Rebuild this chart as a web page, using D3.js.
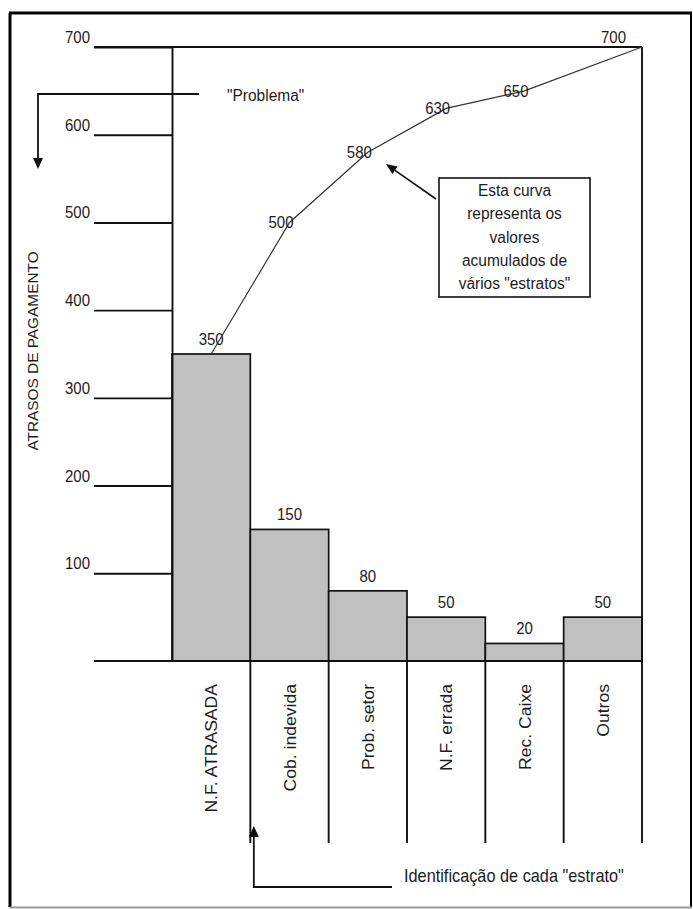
<!DOCTYPE html>
<html>
<head>
<meta charset="utf-8">
<script src="https://cdn.jsdelivr.net/npm/d3@7"></script>
<style>
  html, body { margin: 0; padding: 0; background: #fff; }
  svg { display: block; }
  text { font-family: "Liberation Sans", Arial, sans-serif; fill: #1c1c1c; }
</style>
</head>
<body>
<script>
// Pareto de atrasos de pagamento por "estrato"
const categories = ["N.F. ATRASADA", "Cob. indevida", "Prob. setor", "N.F. errada", "Rec. Caixe", "Outros"];
const values = [350, 150, 80, 50, 20, 50];
const cumulative = [350, 500, 580, 630, 650, 700];
const yTicks = [100, 200, 300, 400, 500, 600, 700];
const yTitle = "ATRASOS DE PAGAMENTO";
const calloutLines = ["Esta curva", "representa os", "valores", "acumulados de", "vários \"estratos\""];
const problemLabel = "\"Problema\"";
const strataLabel = "Identificação de cada \"estrato\"";

const W = 693, H = 909;
const STRETCH = 1.1;          // glyphs are drawn slightly taller than wide
const plotLeft = 172, plotRight = 642, plotTop = 47, plotBase = 661, tickStart = 94, stubBottom = 843;

const svg = d3.select("body").append("svg").attr("width", W).attr("height", H);
svg.append("rect").attr("width", W).attr("height", H).attr("fill", "#fff");

// outer frame
svg.append("line").attr("x1", 10).attr("y1", 13).attr("x2", 10).attr("y2", 907).attr("stroke", "#000").attr("stroke-width", 3);
svg.append("line").attr("x1", 9).attr("y1", 13).attr("x2", 692).attr("y2", 13).attr("stroke", "#000").attr("stroke-width", 3);
svg.append("line").attr("x1", 691).attr("y1", 13).attr("x2", 691).attr("y2", 907).attr("stroke", "#000").attr("stroke-width", 2);
svg.append("line").attr("x1", 10).attr("y1", 907.5).attr("x2", 692).attr("y2", 907.5).attr("stroke", "#9a9a9a").attr("stroke-width", 2);

const x = d3.scaleBand().domain(categories).range([plotLeft, plotRight]).padding(0);
const y = d3.scaleLinear().domain([0, 700]).range([plotBase, plotTop]);

function label(g, px, py, str, size, anchor, rotate) {
  return g.append("text")
    .attr("transform", `translate(${px},${py}) scale(1,${STRETCH})` + (rotate ? " rotate(-90)" : ""))
    .attr("text-anchor", anchor)
    .attr("font-size", size)
    .text(str);
}

// bars
svg.append("g").selectAll("rect").data(values).join("rect")
  .attr("x", (d, i) => x(categories[i]))
  .attr("y", d => y(d))
  .attr("width", x.bandwidth())
  .attr("height", d => y(0) - y(d))
  .attr("fill", "#c0c0c0")
  .attr("stroke", "#111")
  .attr("stroke-width", 1.7);

// y axis with long tick lines reaching left
const axis = d3.axisLeft(y).tickValues(yTicks).tickSize(plotLeft - tickStart).tickSizeOuter(0).tickFormat(d3.format("d"));
const ag = svg.append("g").attr("transform", `translate(${plotLeft},0)`).call(axis);
ag.select(".domain").attr("stroke", "#111").attr("stroke-width", 1.9);
ag.selectAll(".tick line").attr("stroke", "#111").attr("stroke-width", 1.9);
ag.selectAll(".tick text").remove();
yTicks.forEach(t => label(svg, 90, y(t) - 4, String(t), 15, "end", false));

// top line and baseline across the chart, right border, category dividers
svg.append("line").attr("x1", tickStart).attr("x2", plotRight).attr("y1", y(700)).attr("y2", y(700)).attr("stroke", "#111").attr("stroke-width", 1.9);
svg.append("line").attr("x1", tickStart).attr("x2", plotRight).attr("y1", y(0)).attr("y2", y(0)).attr("stroke", "#111").attr("stroke-width", 1.9);
svg.append("line").attr("x1", plotRight).attr("x2", plotRight).attr("y1", y(700)).attr("y2", stubBottom).attr("stroke", "#111").attr("stroke-width", 1.9);
svg.append("g").selectAll("line").data(categories.slice(1)).join("line")
  .attr("x1", d => x(d)).attr("x2", d => x(d))
  .attr("y1", y(0)).attr("y2", stubBottom)
  .attr("stroke", "#111").attr("stroke-width", 1.9);

// bar value labels
values.forEach((v, i) => label(svg, x(categories[i]) + x.bandwidth() / 2, y(v) - 9, String(v), 15, "middle", false));

// category names, vertical
categories.forEach(c => label(svg, x(c) + x.bandwidth() / 2 + 6, 684, c, 16, "end", true));

// cumulative curve
const cumX = i => i === cumulative.length - 1 ? x.range()[1] : x(categories[i]) + x.bandwidth() / 2;
const line = d3.line().x((d, i) => cumX(i)).y(d => y(d));
svg.append("path").datum(cumulative).attr("d", line)
  .attr("fill", "none").attr("stroke", "#333").attr("stroke-width", 1.2);
cumulative.forEach((v, i) => {
  if (i === 0) return;
  if (i === cumulative.length - 1) label(svg, cumX(i) - 16, y(v) - 4, String(v), 15, "end", false);
  else label(svg, cumX(i) + 4, y(v) + 6, String(v), 15, "end", false);
});

// y axis title
label(svg, 38, 351, yTitle, 14, "middle", true);

// "Problema" annotation with downward arrow
const pY = 94, pX = 38;
svg.append("path").attr("d", `M199,${pY}H${pX}V160`).attr("fill", "none").attr("stroke", "#111").attr("stroke-width", 1.8);
svg.append("path").attr("d", `M${pX - 5},158L${pX + 5},158L${pX},169Z`).attr("fill", "#111");
label(svg, 227, 101, problemLabel, 15.5, "start", false);

// callout box pointing at the curve
const bx = 439, by = 178, bw = 151, bh = 119;
svg.append("rect").attr("x", bx).attr("y", by).attr("width", bw).attr("height", bh)
  .attr("fill", "#fff").attr("stroke", "#111").attr("stroke-width", 1.6);
calloutLines.forEach((s, i) => label(svg, bx + bw / 2, by + 18 + i * 23.3, s, 15.5, "middle", false));
{
  const x0 = 436, y0 = 199, x1 = 386, y1 = 164;
  const ang = Math.atan2(y1 - y0, x1 - x0);
  const L = 11, Wd = 4.5;
  const bxp = x1 - L * Math.cos(ang), byp = y1 - L * Math.sin(ang);
  svg.append("line").attr("x1", x0).attr("y1", y0).attr("x2", bxp).attr("y2", byp).attr("stroke", "#111").attr("stroke-width", 1.6);
  svg.append("path").attr("d",
    `M${x1},${y1}L${bxp + Wd * Math.sin(ang)},${byp - Wd * Math.cos(ang)}L${bxp - Wd * Math.sin(ang)},${byp + Wd * Math.cos(ang)}Z`)
    .attr("fill", "#111");
}

// "estrato" annotation with upward arrow
const sx = x(categories[1]) + 3.5, sy = 887;
svg.append("path").attr("d", `M392,${sy}H${sx}V836`).attr("fill", "none").attr("stroke", "#111").attr("stroke-width", 1.8);
svg.append("path").attr("d", `M${sx - 5},837L${sx + 5},837L${sx},826Z`).attr("fill", "#111");
label(svg, 404, 882, strataLabel, 16.3, "start", false);
</script>
</body>
</html>
